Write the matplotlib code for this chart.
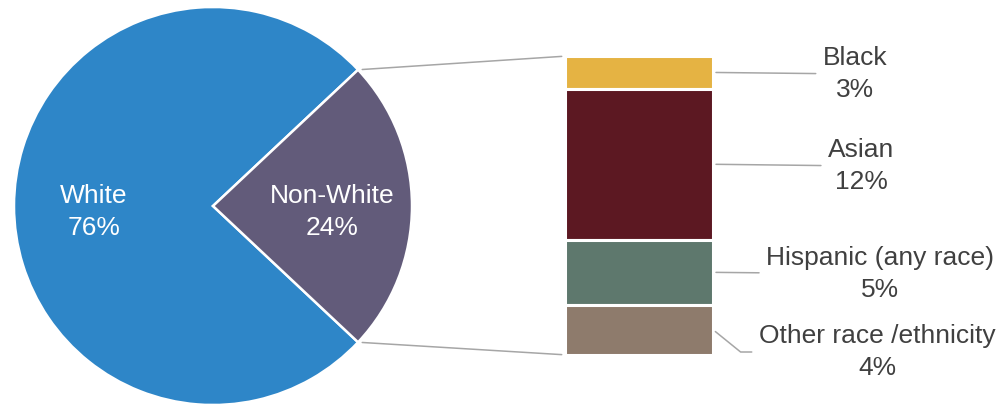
import matplotlib.pyplot as plt
import numpy as np
from matplotlib.patches import ConnectionPatch

plt.rcParams['font.family'] = ['Liberation Sans', 'DejaVu Sans']

# pie data
pie_labels = ['White', 'Non-White']
pie_values = [76, 24]
pie_colors = ['#2E86C8', '#625B7A']

# breakdown of the non-white slice (top to bottom)
sub_labels = ['Black', 'Asian', 'Hispanic (any race)', 'Other race /ethnicity']
sub_values = [2.6, 12.1, 5.2, 4.0]
sub_colors = ['#E5B343', '#5C1822', '#5E786D', '#8E7B6C']

# label centres in pixels from top-left
label_pos = [(855, 74), (861, 166), (880, 274), (877, 352)]

W, H = 1001, 404
fig = plt.figure(figsize=(W / 100, H / 100), dpi=100)

# pie
cx, cy, r = 213, 206, 199
ax_pie = fig.add_axes([(cx - r) / W, (H - cy - r) / H, 2 * r / W, 2 * r / H])
start = 360 * pie_values[1] / sum(pie_values) / 2
wedges, _, autotexts = ax_pie.pie(
    pie_values, colors=pie_colors, startangle=start, radius=1,
    autopct=lambda p: '', pctdistance=0.6,
    wedgeprops=dict(edgecolor='white', linewidth=1.8),
    textprops=dict(color='white', fontsize=19))
for t, lab, v in zip(autotexts, pie_labels, pie_values):
    t.set_text(lab + '\n' + str(v) + '%')
    t.set_linespacing(1.38)
    x, y = t.get_position()
    t.set_position((x, y - 0.03))
ax_pie.set_xlim(-1, 1)
ax_pie.set_ylim(-1, 1)
ax_pie.axis('off')

# stacked bar
bx0, bx1, by0, by1 = 564.5, 713.2, 56.2, 354.8
ax_bar = fig.add_axes([bx0 / W, (H - by1) / H, (bx1 - bx0) / W, (by1 - by0) / H])
total = sum(sub_values)
bottoms = np.concatenate([[0], np.cumsum(sub_values)[:-1]])
bars = ax_bar.bar(0, sub_values, width=1, bottom=bottoms, color=sub_colors,
                  edgecolor='white', linewidth=2.2)
ax_bar.set_xlim(-0.5, 0.5)
ax_bar.set_ylim(total, 0)
ax_bar.axis('off')

# labels with leader lines
for i, (name, v) in enumerate(zip(sub_labels, sub_values)):
    mid = bottoms[i] + v / 2
    lx, ly = label_pos[i]
    conn = 'angle,angleA=0,angleB=-39,rad=0' if i == 3 else 'arc3'
    ax_bar.annotate(name + '\n' + f'{v:.0f}%', xy=(0.5, mid), xycoords='data',
                    xytext=(lx, H - ly), textcoords='figure pixels',
                    ha='center', va='center', fontsize=19, color='#404040',
                    linespacing=1.38,
                    arrowprops=dict(arrowstyle='-', color='#A6A6A6', lw=1.1,
                                    shrinkA=3, shrinkB=2, connectionstyle=conn))

# connectors pie -> bar
theta = np.deg2rad(start)
for sign, yb in [(1, 0), (-1, total)]:
    con = ConnectionPatch(xyA=(np.cos(theta), sign * np.sin(theta)), coordsA=ax_pie.transData,
                          xyB=(-0.5, yb), coordsB=ax_bar.transData,
                          color='#A6A6A6', lw=1.1, shrinkA=3, shrinkB=2)
    fig.add_artist(con)

fig.savefig('out.png', dpi=100)
